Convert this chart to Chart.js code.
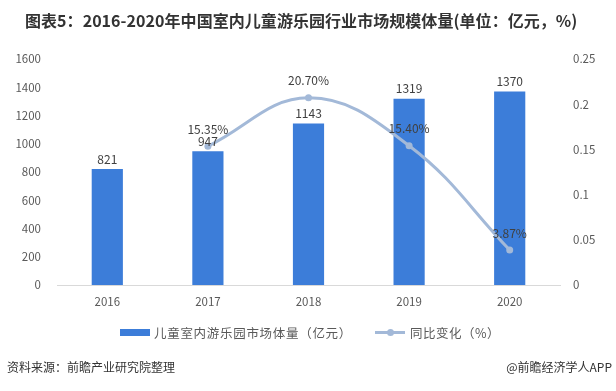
<!DOCTYPE html>
<html>
<head>
<meta charset="utf-8">
<script src="https://cdn.jsdelivr.net/npm/chart.js@4/dist/chart.umd.min.js"></script>
<style>
  html,body{margin:0;padding:0;background:#fff;}
  #wrap{position:relative;width:616px;height:391px;overflow:hidden;background:#fff;font-family:"Noto Sans CJK SC","Noto Sans",sans-serif;}
  #c{position:absolute;left:0;top:0;}
  .title{position:absolute;left:25px;top:8px;font-size:16px;font-weight:bold;color:#333;white-space:nowrap;line-height:24px;letter-spacing:0.05px;}
  .legend{position:absolute;top:323px;left:0;width:616px;height:18px;font-size:12.5px;color:#595959;}
  .lg{position:absolute;top:0;display:flex;align-items:center;height:18px;white-space:nowrap;}
  .sw-bar{width:30px;height:7px;background:#3c7dd9;margin-right:4px;}
  .sw-line{position:relative;width:30px;height:3px;background:#a3b9d8;margin-right:5px;}
  .sw-line i{position:absolute;left:12px;top:-2px;width:7px;height:7px;border-radius:50%;background:#a3b9d8;}
  .foot{position:absolute;top:358px;font-size:12px;color:#333;line-height:18px;white-space:nowrap;}
</style>
</head>
<body>
<div id="wrap">
  <canvas id="c" width="616" height="391"></canvas>
  <div class="title">图表5：2016-2020年中国室内儿童游乐园行业市场规模体量(单位：亿元，%)</div>
  <div class="legend">
    <div class="lg" style="left:120px"><span class="sw-bar"></span><span style="letter-spacing:0.7px">儿童室内游乐园市场体量（亿元）</span></div>
    <div class="lg" style="left:375px"><span class="sw-line"><i></i></span><span style="letter-spacing:0.5px">同比变化（%）</span></div>
  </div>
  <div class="foot" style="left:7px">资料来源：前瞻产业研究院整理</div>
  <div class="foot" style="right:4px">@前瞻经济学人APP</div>
</div>
<script>
const categories = ['2016', '2017', '2018', '2019', '2020'];
const marketSize = [821, 947, 1143, 1319, 1370];
const growthRate = [null, 0.1535, 0.2070, 0.1540, 0.0387];
const growthLabels = ['', '15.35%', '20.70%', '15.40%', '3.87%'];
const leftTicks = [0, 200, 400, 600, 800, 1000, 1200, 1400, 1600];
const rightTicks = ['0', '0.05', '0.1', '0.15', '0.2', '0.25'];

const tickFont = {family: '"Noto Sans CJK SC","Noto Sans",sans-serif', size: 11.5};

const labelPlugin = {
  id: 'valueLabels',
  afterDatasetsDraw(chart) {
    const ctx = chart.ctx;
    ctx.save();
    ctx.font = '12px "Noto Sans CJK SC","Noto Sans",sans-serif';
    ctx.fillStyle = '#404040';
    ctx.textAlign = 'center';
    const barMeta = chart.getDatasetMeta(0);
    barMeta.data.forEach((el, i) => {
      ctx.textBaseline = 'bottom';
      ctx.fillText(String(marketSize[i]), el.x, el.y - 4);
    });
    const lineMeta = chart.getDatasetMeta(1);
    lineMeta.data.forEach((el, i) => {
      if (growthRate[i] === null) return;
      ctx.textBaseline = 'middle';
      ctx.fillText(growthLabels[i], el.x, el.y - 17);
    });
    ctx.restore();
  }
};

new Chart(document.getElementById('c'), {
  type: 'bar',
  data: {
    labels: categories,
    datasets: [
      {
        type: 'bar',
        label: '儿童室内游乐园市场体量（亿元）',
        data: marketSize,
        backgroundColor: '#3c7dd9',
        barPercentage: 0.31,
        categoryPercentage: 1,
        yAxisID: 'y',
        order: 1
      },
      {
        type: 'line',
        label: '同比变化（%）',
        data: growthRate,
        borderColor: '#a3b9d8',
        backgroundColor: '#a3b9d8',
        borderWidth: 3,
        pointRadius: 3.5,
        pointBorderWidth: 0,
        tension: 0.4,
        yAxisID: 'y1',
        order: 0
      }
    ]
  },
  options: {
    responsive: false,
    animation: false,
    layout: {padding: {top: 59, bottom: 66, left: 0, right: 0}},
    plugins: {legend: {display: false}, tooltip: {enabled: false}, title: {display: false}},
    scales: {
      x: {
        grid: {display: false, drawTicks: false},
        border: {display: true, color: '#d9d9d9', width: 1},
        ticks: {color: '#595959', font: tickFont, padding: 10, maxRotation: 0},
        afterFit(s) { s.height = 40; }
      },
      y: {
        position: 'left',
        min: 0, max: 1600,
        grid: {display: false, drawTicks: false},
        border: {display: false},
        afterBuildTicks(s) { s.ticks = leftTicks.map(v => ({value: v})); },
        ticks: {color: '#595959', font: tickFont, padding: 16, callback: v => String(v)},
        afterFit(s) { s.width = 57; }
      },
      y1: {
        position: 'right',
        min: 0, max: 0.25,
        grid: {display: false, drawTicks: false},
        border: {display: false},
        afterBuildTicks(s) { s.ticks = rightTicks.map(v => ({value: parseFloat(v)})); },
        ticks: {color: '#595959', font: tickFont, padding: 13, callback: (v, i) => rightTicks[i]},
        afterFit(s) { s.width = 56; }
      }
    }
  },
  plugins: [labelPlugin]
});
</script>
</body>
</html>
